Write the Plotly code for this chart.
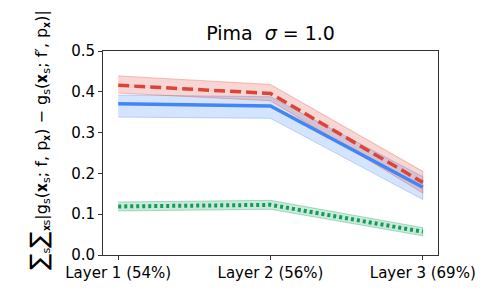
import plotly.graph_objects as go

categories = ["Layer 1 (54%)", "Layer 2 (56%)", "Layer 3 (69%)"]
blue_mean = [0.371, 0.365, 0.166]
blue_lo = [0.338, 0.335, 0.136]
blue_hi = [0.392, 0.388, 0.192]
red_mean = [0.416, 0.396, 0.178]
red_lo = [0.397, 0.378, 0.152]
red_hi = [0.439, 0.418, 0.205]
green_mean = [0.119, 0.123, 0.057]
green_lo = [0.108, 0.112, 0.047]
green_hi = [0.130, 0.134, 0.067]
yticks = [0.0, 0.1, 0.2, 0.3, 0.4, 0.5]

xs = list(range(len(categories)))

BLUE = "#4285F4"
RED = "#DB4437"
GREEN = "#0F9D58"

def band(lo, hi, color, alpha):
    r = int(color[1:3], 16); g = int(color[3:5], 16); b = int(color[5:7], 16)
    return go.Scatter(
        x=xs + xs[::-1], y=hi + lo[::-1], fill="toself",
        fillcolor=f"rgba({r},{g},{b},{alpha})",
        line=dict(color=f"rgba({r},{g},{b},{alpha+0.1})", width=1),
        hoverinfo="skip", showlegend=False, mode="lines")

fig = go.Figure()
fig.add_trace(band(green_lo, green_hi, GREEN, 0.22))
fig.add_trace(band(blue_lo, blue_hi, BLUE, 0.22))
fig.add_trace(band(red_lo, red_hi, RED, 0.22))
fig.add_trace(go.Scatter(x=xs, y=green_mean, mode="lines",
                         line=dict(color=GREEN, width=4, dash="3px,3px"), showlegend=False))
fig.add_trace(go.Scatter(x=xs, y=blue_mean, mode="lines",
                         line=dict(color=BLUE, width=3.5), showlegend=False))
fig.add_trace(go.Scatter(x=xs, y=red_mean, mode="lines",
                         line=dict(color=RED, width=3.5, dash="11px,5px"), showlegend=False))

axis_common = dict(showgrid=False, zeroline=False, showline=True, linecolor="#333",
                   linewidth=1, mirror=True, ticks="outside", ticklen=4, tickcolor="#333",
                   tickfont=dict(size=15, color="black"))

fig.update_layout(
    width=488, height=293,
    margin=dict(l=95, r=58, t=43, b=46),
    plot_bgcolor="white", paper_bgcolor="white",
    font=dict(family="DejaVu Sans", color="black"),
    title=dict(text="Pima  <i>σ</i> = 1.0", x=0.538, xanchor="center",
               y=0.915, yanchor="middle", font=dict(size=19)),
    xaxis=dict(range=[-0.1, 2.1], tickvals=xs, ticktext=categories, **axis_common),
    yaxis=dict(range=[0, 0.5], tickvals=yticks, ticktext=[f"{v:.1f}" for v in yticks],
               **axis_common),
)

ylabel = ("<span style='font-size:24px'>∑</span><sub>s</sub>"
          "<span style='font-size:24px'>∑</span><sub>𝐱s</sub>"
          "|g<sub>s</sub>(𝐱<sub>s</sub>; f, p<sub>𝐱</sub>) − "
          "g<sub>s</sub>(𝐱<sub>s</sub>; f′, p<sub>𝐱</sub>)|")
fig.add_annotation(text=ylabel, xref="paper", yref="paper", x=-0.19, y=-0.08,
                   xanchor="center", yanchor="bottom", textangle=-90, showarrow=False,
                   font=dict(size=16, color="black"))

fig.write_html("out.html")
